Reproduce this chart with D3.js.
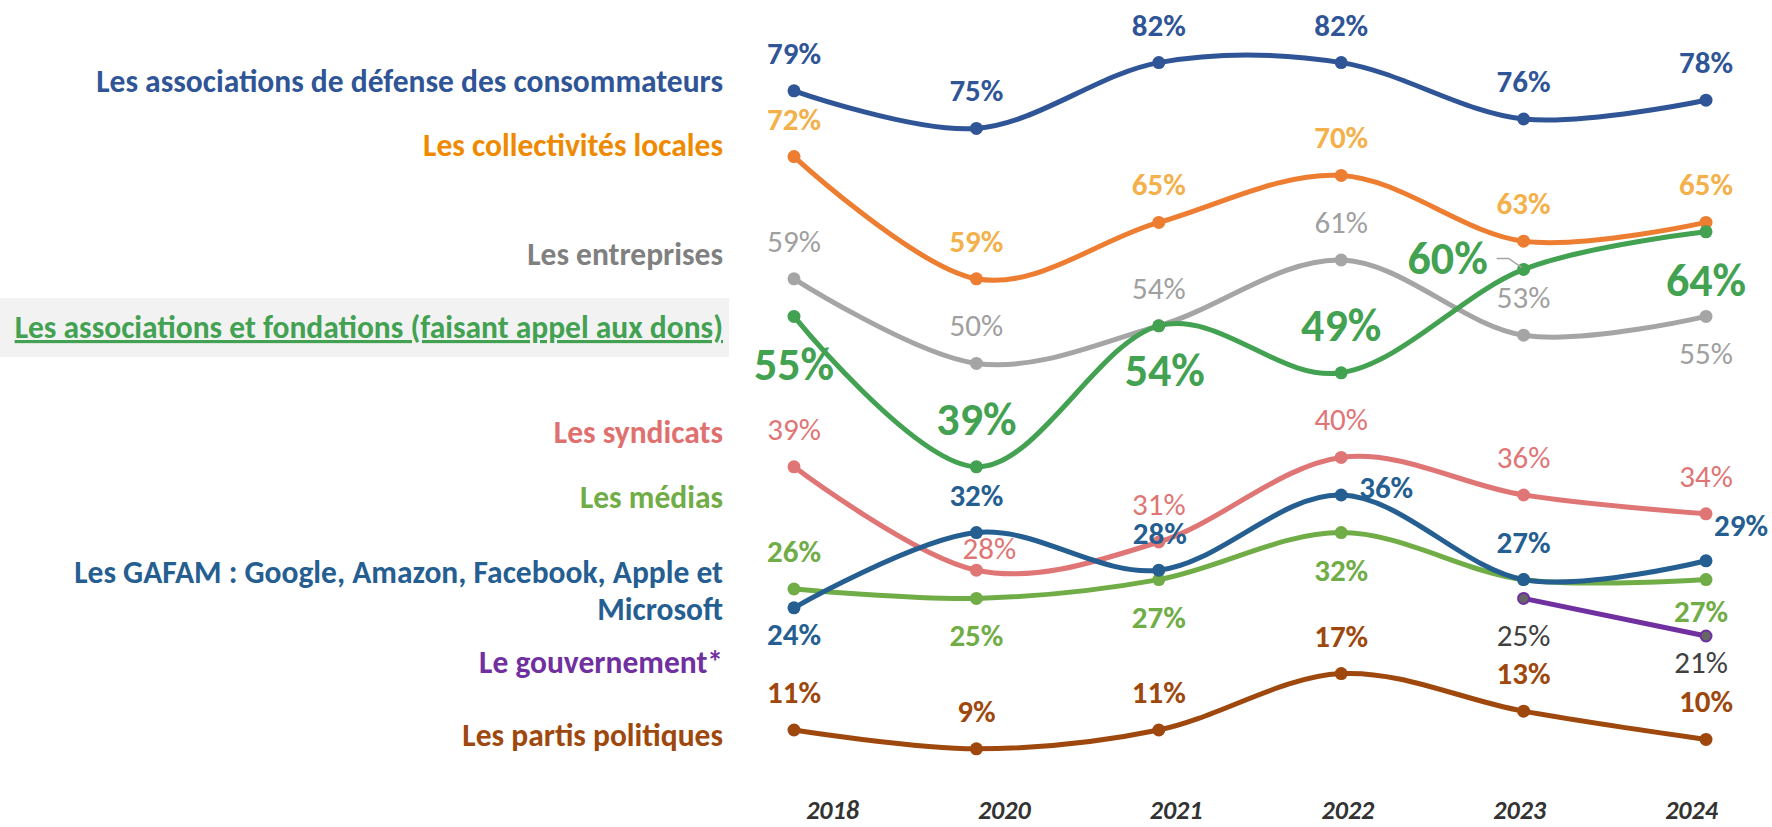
<!DOCTYPE html>
<html>
<head>
<meta charset="utf-8">
<script src="https://cdn.jsdelivr.net/npm/d3@7"></script>
<style>
  body { margin: 0; background: #fff; }
  text { font-family: Calibri, Carlito, Lato, sans-serif; }
</style>
</head>
<body>
<div id="chart"></div>
<script>
// data
var years = ["2018", "2020", "2021", "2022", "2023", "2024"];
var consommateurs = [79, 75, 82, 82, 76, 78];
var collectivites = [72, 59, 65, 70, 63, 65];
var entreprises = [59, 50, 54, 61, 53, 55];
var fondations = [55, 39, 54, 49, 60, 64];
var syndicats = [39, 28, 31, 40, 36, 34];
var medias = [26, 25, 27, 32, 27, 27];
var gafam = [24, 32, 28, 36, 27, 29];
var gouvernement = [null, null, null, null, 25, 21];
var partis = [11, 9, 11, 17, 13, 10];

var svgWidth = 1772;
var svgHeight = 827;

var svg = d3.select("#chart")
    .append("svg")
    .attr("width", svgWidth)
    .attr("height", svgHeight);

svg.append("rect")
    .attr("width", svgWidth)
    .attr("height", svgHeight)
    .attr("fill", "#fff");

var xScale = d3.scalePoint().domain(years).range([794, 1706]);
var yScale = d3.scaleLinear().domain([0, 100]).range([833.4, -106.6]);
var yearScale = d3.scalePoint().domain(years).range([832, 1691]);

// label offsets: t = above, b = below, or [dx, dy] for the odd ones
var small = { t: [0, -27], b: [0, 48] };
var big = { t: [0, -32], b: [0, 64] };

var series = [
    { name: ["Les associations de défense des consommateurs"], values: consommateurs,
      color: "#2F5597", label: "#2F5597", legend: "#2F5597", legendY: 92, bold: true,
      pos: ["t", "t", "t", "t", "t", "t"] },
    { name: ["Les collectivités locales"], values: collectivites,
      color: "#ED7D31", label: "#F4B04A", legend: "#EF8A00", legendY: 156, bold: true,
      pos: ["t", "t", "t", "t", "t", "t"] },
    { name: ["Les entreprises"], values: entreprises,
      color: "#A5A5A5", label: "#A0A0A0", legend: "#808080", legendY: 265, bold: false,
      pos: ["t", "t", "t", "t", "t", "b"] },
    { name: ["Les syndicats"], values: syndicats,
      color: "#E07575", label: "#E07575", legend: "#E07070", legendY: 443, bold: false,
      pos: ["t", [13, -11], "t", "t", "t", "t"] },
    { name: ["Les médias"], values: medias,
      color: "#70AD47", label: "#70AD47", legend: "#70AD47", legendY: 508, bold: true,
      pos: ["t", "b", "b", "b", null, [-5, 42]] },
    { name: ["Les GAFAM : Google, Amazon, Facebook, Apple et", "Microsoft"], values: gafam,
      color: "#255E91", label: "#255E91", legend: "#255E91", legendY: 583, bold: true,
      pos: [[0, 37], "t", [1, -26], [45, 3], "t", [35, -25]] },
    { name: ["Le gouvernement*"], values: gouvernement,
      color: "#7030A0", label: "#404040", legend: "#7030A0", legendY: 673, bold: false,
      markerFill: "#666666", pos: [null, null, null, null, "b", [-5, 37]] },
    { name: ["Les partis politiques"], values: partis,
      color: "#9E480E", label: "#9E480E", legend: "#9E480E", legendY: 746, bold: true,
      pos: ["t", "t", "t", "t", "t", "t"] },
    { name: ["Les associations et fondations (faisant appel aux dons)"], values: fondations,
      color: "#43A152", label: "#43A152", legend: "#43A152", legendY: 338, bold: true,
      big: true, highlight: true, pos: ["b", "t", [6, 60], "t", [-76, 5], "b"] }
];

// legend on the left
var legend = svg.append("g");

series.forEach(function(s) {
    if (s.highlight) {
        legend.append("rect")
            .attr("x", 0)
            .attr("y", s.legendY - 40)
            .attr("width", 729)
            .attr("height", 59)
            .attr("fill", "#F2F2F2");
    }
    var t = legend.append("text")
        .attr("text-anchor", "end")
        .attr("font-size", 31.5)
        .attr("font-weight", "bold")
        .attr("fill", s.legend)
        .style("text-decoration", s.highlight ? "underline" : null);
    s.name.forEach(function(line, i) {
        t.append("tspan")
            .attr("x", 723)
            .attr("y", s.legendY + i * 37)
            .text(line);
    });
});

// years
var yearAxis = svg.append("g")
    .attr("transform", "translate(0,819)")
    .call(d3.axisBottom(yearScale).tickSize(0));
yearAxis.select(".domain").remove();
yearAxis.selectAll("text")
    .attr("y", 0)
    .attr("dy", 0)
    .attr("font-family", "Calibri, Carlito, Lato, sans-serif")
    .attr("font-size", 26)
    .attr("font-weight", "bold")
    .attr("font-style", "italic")
    .attr("fill", "#333333");

var line = d3.line()
    .defined(function(d) { return d != null; })
    .x(function(d, i) { return xScale(years[i]); })
    .y(function(d) { return yScale(d); })
    .curve(d3.curveCardinal.tension(0));

var lines = svg.append("g");
series.forEach(function(s) {
    lines.append("path")
        .attr("d", line(s.values))
        .attr("fill", "none")
        .attr("stroke", s.color)
        .attr("stroke-width", 5)
        .attr("stroke-linecap", "round");

    lines.selectAll(null)
        .data(s.values.map(function(v, i) { return { v: v, year: years[i] }; })
            .filter(function(d) { return d.v != null; }))
        .enter()
        .append("circle")
        .attr("cx", function(d) { return xScale(d.year); })
        .attr("cy", function(d) { return yScale(d.v); })
        .attr("r", s.markerFill ? 5.5 : 6.5)
        .attr("fill", s.markerFill || s.color)
        .attr("stroke", s.markerFill ? s.color : "none")
        .attr("stroke-width", 2);
});

// small leader line near the 2023 label
svg.append("path")
    .attr("d", "M" + (xScale("2023") - 27) + "," + (yScale(fondations[4]) - 11)
        + "h12L" + (xScale("2023") - 2) + "," + (yScale(fondations[4]) - 2))
    .attr("fill", "none")
    .attr("stroke", "#A5A5A5")
    .attr("stroke-width", 1.5);

// data labels
var labels = svg.append("g");
series.forEach(function(s) {
    var offs = s.big ? big : small;
    s.values.forEach(function(v, i) {
        var p = s.pos[i];
        if (v == null || p == null) return;
        var o = typeof p === "string" ? offs[p] : p;
        labels.append("text")
            .attr("x", xScale(years[i]) + o[0])
            .attr("y", yScale(v) + o[1])
            .attr("text-anchor", "middle")
            .attr("font-size", s.big ? 46 : 31)
            .attr("font-weight", s.bold ? "bold" : "normal")
            .attr("fill", s.label)
            .text(v + "%");
    });
});
</script>
</body>
</html>
